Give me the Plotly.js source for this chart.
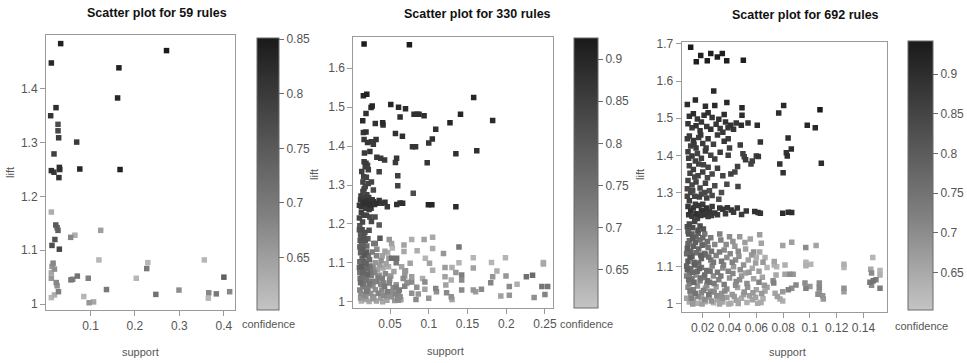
<!DOCTYPE html>
<html><head><meta charset="utf-8">
<script src="https://cdn.plot.ly/plotly-3.0.1.min.js"></script>
<style>html,body{margin:0;padding:0;background:#fff}#chart{width:967px;height:363px}</style>
</head><body><div id="chart"></div>
<script>
// [support, lift, confidence] for each rule
const titles = ["Scatter plot for 59 rules", "Scatter plot for 330 rules", "Scatter plot for 692 rules"];
const xTicks1 = [0.1, 0.2, 0.3, 0.4];
const yTicks1 = [1, 1.1, 1.2, 1.3, 1.4];
const cTicks1 = [0.65, 0.7, 0.75, 0.8, 0.85];
const xTicks2 = [0.05, 0.1, 0.15, 0.2, 0.25];
const yTicks2 = [1, 1.1, 1.2, 1.3, 1.4, 1.5, 1.6];
const cTicks2 = [0.65, 0.7, 0.75, 0.8, 0.85, 0.9];
const xTicks3 = [0.02, 0.04, 0.06, 0.08, 0.1, 0.12, 0.14];
const yTicks3 = [1, 1.1, 1.2, 1.3, 1.4, 1.5, 1.6, 1.7];
const cTicks3 = [0.65, 0.7, 0.75, 0.8, 0.85, 0.9];

const rules1 = [
[0.033,1.484,0.84],[0.012,1.448,0.83],[0.271,1.471,0.85],[0.164,1.439,0.84],[0.161,1.383,0.83],
[0.0225,1.365,0.82],[0.0105,1.350,0.81],[0.027,1.334,0.77],[0.027,1.322,0.78],[0.0285,1.309,0.80],
[0.069,1.301,0.80],[0.018,1.279,0.79],[0.012,1.248,0.82],[0.018,1.245,0.80],[0.030,1.254,0.82],
[0.029,1.235,0.81],[0.076,1.251,0.83],[0.1665,1.250,0.84],[0.031,1.250,0.81],
[0.012,1.171,0.63],[0.022,1.147,0.75],[0.025,1.142,0.73],[0.027,1.137,0.74],[0.020,1.120,0.76],
[0.0135,1.109,0.77],[0.030,1.102,0.78],[0.0555,1.124,0.68],[0.065,1.128,0.63],[0.123,1.137,0.65],
[0.016,1.076,0.68],[0.0135,1.070,0.66],[0.019,1.065,0.67],[0.012,1.058,0.64],[0.012,1.048,0.66],
[0.023,1.040,0.68],[0.025,1.034,0.67],[0.028,1.023,0.69],[0.019,1.017,0.63],[0.012,1.012,0.62],
[0.056,1.045,0.70],[0.060,1.046,0.69],[0.0705,1.052,0.71],[0.095,1.048,0.69],[0.085,1.014,0.62],
[0.097,1.0025,0.66],[0.107,1.004,0.64],[0.119,1.082,0.62],[0.136,1.027,0.70],[0.203,1.048,0.62],
[0.229,1.077,0.62],[0.2265,1.066,0.70],[0.247,1.018,0.71],[0.299,1.026,0.67],[0.356,1.082,0.62],
[0.366,1.021,0.68],[0.365,1.011,0.62],[0.383,1.019,0.70],[0.400,1.050,0.74],[0.413,1.023,0.68]
];

const rules2 = [
[0.0165,1.662,0.92],[0.075,1.660,0.92],[0.158,1.525,0.90],[0.0156,1.529,0.90],[0.020,1.533,0.91],
[0.0255,1.499,0.89],[0.027,1.503,0.90],[0.019,1.484,0.88],[0.0148,1.465,0.89],[0.051,1.507,0.90],
[0.061,1.500,0.89],[0.070,1.496,0.89],[0.063,1.475,0.88],[0.081,1.482,0.88],[0.085,1.482,0.88],
[0.0875,1.482,0.88],[0.094,1.478,0.88],[0.141,1.482,0.90],[0.1825,1.466,0.89],[0.031,1.458,0.88],
[0.0405,1.460,0.89],[0.041,1.454,0.88],[0.1274,1.460,0.90],[0.109,1.443,0.88],[0.0156,1.435,0.87],
[0.019,1.436,0.88],[0.057,1.432,0.88],[0.066,1.425,0.88],[0.1046,1.418,0.88],[0.100,1.408,0.87],
[0.0165,1.417,0.86],[0.021,1.409,0.87],[0.026,1.411,0.86],[0.032,1.417,0.87],[0.0285,1.405,0.86],
[0.079,1.398,0.87],[0.083,1.398,0.87],[0.135,1.380,0.88],[0.162,1.388,0.88],[0.017,1.382,0.86],
[0.024,1.386,0.87],[0.033,1.371,0.86],[0.038,1.369,0.86],[0.043,1.364,0.86],[0.0585,1.369,0.87],
[0.057,1.358,0.86],[0.098,1.357,0.87],[0.0165,1.360,0.85],[0.019,1.356,0.86],[0.021,1.351,0.84],
[0.018,1.347,0.85],[0.022,1.339,0.85],[0.036,1.334,0.85],[0.060,1.324,0.85],[0.060,1.298,0.84],
[0.080,1.279,0.82],[0.016,1.321,0.84],[0.015,1.308,0.84],[0.018,1.296,0.83],[0.015,1.283,0.83],
[0.022,1.304,0.84],[0.026,1.308,0.84],[0.0285,1.287,0.83],
[0.015,1.257,0.87],[0.0177,1.253,0.88],[0.0207,1.260,0.87],[0.024,1.249,0.88],[0.0285,1.257,0.87],
[0.033,1.253,0.88],[0.036,1.260,0.87],[0.0396,1.253,0.86],[0.0435,1.256,0.87],[0.0465,1.244,0.86],
[0.0587,1.250,0.88],[0.063,1.254,0.87],[0.0663,1.253,0.88],[0.0995,1.249,0.90],[0.104,1.249,0.90],
[0.135,1.244,0.89],[0.012,1.262,0.86],[0.013,1.245,0.87],[0.019,1.240,0.86],[0.023,1.237,0.85],
[0.027,1.262,0.86],[0.017,1.268,0.85],[0.020,1.275,0.84],[0.030,1.250,0.87],[0.013,1.230,0.85],
[0.016,1.222,0.84],[0.0306,1.218,0.82],[0.036,1.197,0.80],
[0.011,1.195,0.80],[0.014,1.185,0.82],[0.012,1.172,0.79],[0.016,1.165,0.81],[0.013,1.152,0.78],
[0.018,1.158,0.80],[0.011,1.141,0.77],[0.015,1.135,0.79],[0.020,1.143,0.76],[0.012,1.126,0.78],
[0.017,1.120,0.80],[0.014,1.112,0.77],[0.022,1.118,0.75],[0.011,1.103,0.76],[0.019,1.098,0.78],
[0.013,1.090,0.79],[0.024,1.092,0.74],[0.016,1.082,0.76],[0.011,1.075,0.74],[0.021,1.071,0.77],
[0.014,1.064,0.75],[0.026,1.067,0.72],[0.018,1.055,0.73],[0.012,1.049,0.76],[0.023,1.046,0.74],
[0.015,1.038,0.72],[0.028,1.041,0.70],[0.011,1.030,0.71],[0.020,1.027,0.73],[0.016,1.018,0.70],
[0.025,1.021,0.69],[0.012,1.010,0.68],[0.019,1.006,0.66],[0.023,1.001,0.65],[0.013,1.002,0.64],
[0.028,1.088,0.70],[0.031,1.100,0.68],[0.034,1.083,0.66],[0.037,1.094,0.67],[0.041,1.087,0.65],
[0.045,1.098,0.66],[0.048,1.090,0.64],[0.030,1.075,0.71],[0.036,1.068,0.69],[0.040,1.060,0.72],
[0.044,1.072,0.70],[0.051,1.066,0.68],[0.055,1.078,0.66],[0.033,1.052,0.72],[0.038,1.045,0.70],
[0.043,1.040,0.73],[0.049,1.048,0.71],[0.054,1.036,0.70],[0.058,1.044,0.68],[0.031,1.031,0.69],
[0.035,1.022,0.71],[0.042,1.017,0.70],[0.047,1.026,0.72],[0.052,1.013,0.69],[0.057,1.020,0.71],
[0.060,1.008,0.70],[0.038,1.009,0.67],[0.029,1.013,0.68],[0.062,1.030,0.72],[0.064,1.005,0.66],
[0.056,1.003,0.68],[0.046,1.004,0.66],[0.027,1.128,0.72],[0.033,1.135,0.70],[0.040,1.118,0.66],
[0.047,1.126,0.64],[0.053,1.138,0.63],[0.029,1.150,0.74],[0.052,1.112,0.75],[0.058,1.100,0.73],
[0.065,1.090,0.66],[0.070,1.080,0.68],[0.067,1.060,0.70],[0.073,1.050,0.69],[0.069,1.040,0.71],
[0.023,1.184,0.82],[0.026,1.206,0.83],[0.024,1.218,0.83],[0.037,1.163,0.80],[0.031,1.150,0.74],
[0.049,1.160,0.68],[0.052,1.150,0.66],[0.068,1.146,0.66],[0.078,1.160,0.64],[0.094,1.160,0.66],
[0.105,1.166,0.65],[0.105,1.137,0.64],[0.119,1.124,0.68],[0.139,1.141,0.74],[0.0586,1.112,0.75],
[0.068,1.129,0.65],[0.076,1.099,0.66],[0.085,1.131,0.64],[0.0956,1.112,0.63],[0.101,1.099,0.66],
[0.121,1.088,0.67],[0.130,1.088,0.64],[0.1575,1.113,0.63],[0.181,1.101,0.63],[0.199,1.113,0.63],
[0.248,1.101,0.64],[0.248,1.097,0.65],[0.105,1.081,0.64],[0.121,1.064,0.66],[0.139,1.100,0.63],
[0.1425,1.069,0.72],[0.1425,1.056,0.70],[0.1575,1.030,0.68],[0.1605,1.026,0.67],[0.168,1.032,0.70],
[0.180,1.049,0.71],[0.1825,1.064,0.68],[0.193,1.015,0.66],[0.188,1.079,0.64],[0.204,1.039,0.70],
[0.204,1.017,0.68],[0.214,1.045,0.64],[0.226,1.064,0.75],[0.234,1.068,0.76],[0.236,1.011,0.69],
[0.246,1.039,0.74],[0.2535,1.039,0.74],[0.250,1.019,0.71],[0.123,1.023,0.70],[0.129,1.013,0.69],
[0.130,1.006,0.66],[0.1425,1.030,0.70],[0.109,1.034,0.71],[0.110,1.026,0.69],[0.100,1.009,0.68],
[0.095,1.032,0.66],[0.095,1.051,0.70],[0.092,1.060,0.64],[0.0845,1.037,0.69],[0.0865,1.020,0.68],
[0.0835,1.006,0.70],[0.078,1.064,0.67],[0.078,1.051,0.70],[0.078,1.022,0.69],[0.0716,1.047,0.64],
[0.069,1.077,0.66],[0.069,1.066,0.68],[0.0608,1.026,0.71],[0.063,1.013,0.70],[0.0608,1.004,0.69],
[0.0577,1.037,0.72],[0.122,1.043,0.66],[0.129,1.056,0.64],[0.135,1.075,0.68],[0.1575,1.087,0.66],
[0.1997,1.066,0.68],
[0.0105,1.185,0.81],[0.0135,1.168,0.80],[0.0175,1.178,0.81],[0.0215,1.162,0.79],[0.0115,1.158,0.80],
[0.0155,1.148,0.78],[0.0195,1.128,0.79],[0.0125,1.138,0.78],[0.0235,1.108,0.76],[0.0165,1.104,0.78],
[0.0105,1.088,0.77],[0.0205,1.085,0.76],[0.0145,1.076,0.77],[0.0245,1.078,0.73],[0.0115,1.060,0.75],
[0.0195,1.060,0.74],[0.0155,1.045,0.74],[0.0265,1.052,0.72],[0.0215,1.035,0.72],[0.0125,1.022,0.70],
[0.0185,1.013,0.69],[0.0275,1.008,0.68],[0.0325,1.002,0.66],[0.0405,1.000,0.65],
[0.0105,1.215,0.84],[0.0145,1.205,0.83],[0.0195,1.222,0.84],[0.0125,1.272,0.85],[0.0165,1.290,0.84],
[0.0225,1.268,0.85],[0.0105,1.248,0.86],[0.0255,1.240,0.86],[0.0135,1.335,0.85],[0.0195,1.320,0.84],
[0.0325,1.118,0.71],[0.0385,1.106,0.69],[0.0435,1.130,0.66],[0.0485,1.112,0.67],[0.0345,1.062,0.72],
[0.0415,1.048,0.71],[0.0495,1.058,0.70],[0.0535,1.025,0.69],[0.0395,1.030,0.70],[0.0455,1.015,0.69]
];

const rules3 = [
[0.011,1.691,0.94],[0.0152,1.652,0.93],[0.0185,1.669,0.93],[0.0234,1.655,0.93],[0.026,1.674,0.93],
[0.0309,1.665,0.93],[0.0346,1.674,0.93],[0.0379,1.655,0.93],[0.0503,1.656,0.93],[0.0282,1.573,0.91],
[0.0085,1.537,0.90],[0.0145,1.549,0.91],[0.022,1.532,0.90],[0.029,1.534,0.91],[0.038,1.542,0.91],
[0.0493,1.528,0.91],[0.0493,1.508,0.90],[0.0804,1.534,0.91],[0.0767,1.514,0.90],[0.1075,1.523,0.94],
[0.098,1.481,0.91],[0.104,1.474,0.91],[0.0837,1.447,0.90],[0.0861,1.417,0.90],[0.0824,1.407,0.89],
[0.0831,1.398,0.90],[0.0775,1.377,0.89],[0.080,1.353,0.89],[0.1085,1.379,0.90],[0.063,1.436,0.89],
[0.0607,1.481,0.90],[0.0538,1.487,0.89],[0.0488,1.481,0.90],[0.045,1.487,0.88],[0.0409,1.481,0.89],
[0.0389,1.474,0.88],[0.0615,1.397,0.88],
[0.010,1.505,0.89],[0.013,1.512,0.90],[0.016,1.498,0.88],[0.021,1.508,0.89],[0.024,1.515,0.90],
[0.027,1.502,0.88],[0.032,1.497,0.89],[0.036,1.510,0.90],[0.019,1.490,0.88],
[0.009,1.485,0.88],[0.012,1.474,0.87],[0.015,1.480,0.89],[0.018,1.466,0.88],[0.023,1.478,0.87],
[0.026,1.470,0.89],[0.030,1.484,0.88],[0.033,1.472,0.87],[0.037,1.490,0.89],[0.035,1.462,0.88],
[0.043,1.470,0.88],
[0.010,1.452,0.87],[0.013,1.440,0.88],[0.017,1.448,0.86],[0.020,1.432,0.87],[0.024,1.445,0.88],
[0.028,1.430,0.86],[0.031,1.455,0.87],[0.036,1.438,0.88],[0.039,1.445,0.87],[0.040,1.420,0.86],
[0.048,1.428,0.87],[0.011,1.425,0.86],[0.015,1.420,0.87],
[0.009,1.410,0.86],[0.012,1.398,0.87],[0.016,1.405,0.85],[0.019,1.392,0.86],[0.022,1.412,0.87],
[0.026,1.400,0.85],[0.029,1.390,0.86],[0.033,1.408,0.87],[0.039,1.400,0.86],[0.050,1.404,0.86],
[0.052,1.388,0.87],[0.051,1.396,0.85],[0.060,1.398,0.87],[0.057,1.385,0.86],
[0.010,1.372,0.85],[0.013,1.362,0.86],[0.017,1.377,0.85],[0.020,1.355,0.86],[0.024,1.368,0.85],
[0.027,1.350,0.84],[0.031,1.365,0.86],[0.035,1.345,0.85],[0.041,1.350,0.86],[0.044,1.355,0.85],
[0.046,1.370,0.86],[0.056,1.377,0.86],[0.014,1.342,0.84],
[0.009,1.332,0.85],[0.012,1.320,0.84],[0.015,1.328,0.85],[0.018,1.312,0.84],[0.022,1.325,0.85],
[0.025,1.305,0.83],[0.029,1.318,0.84],[0.034,1.300,0.83],[0.038,1.322,0.84],[0.0463,1.316,0.85],
[0.011,1.300,0.84],[0.014,1.290,0.85],[0.019,1.296,0.84],[0.023,1.285,0.85],[0.027,1.292,0.84],
[0.032,1.282,0.83],[0.010,1.278,0.86],
[0.009,1.262,0.88],[0.011,1.250,0.89],[0.013,1.258,0.88],[0.015,1.243,0.89],[0.017,1.265,0.88],
[0.019,1.252,0.89],[0.021,1.240,0.88],[0.023,1.258,0.89],[0.025,1.248,0.88],[0.027,1.262,0.87],
[0.029,1.245,0.88],[0.012,1.236,0.87],[0.016,1.230,0.86],[0.020,1.268,0.87],[0.024,1.235,0.87],
[0.0327,1.258,0.88],[0.035,1.255,0.88],[0.0384,1.259,0.88],[0.0413,1.253,0.88],[0.0458,1.258,0.88],
[0.0525,1.250,0.88],[0.0588,1.249,0.89],[0.0613,1.246,0.89],[0.0797,1.244,0.90],[0.0839,1.247,0.90],
[0.0864,1.246,0.90],[0.031,1.240,0.87],[0.037,1.243,0.87],[0.043,1.247,0.87],[0.049,1.241,0.87],
[0.063,1.244,0.88],[0.014,1.222,0.85],[0.010,1.215,0.84],[0.018,1.210,0.83],
[0.009,1.195,0.80],[0.012,1.188,0.79],[0.015,1.180,0.78],[0.0215,1.188,0.74],[0.0327,1.188,0.72],
[0.040,1.181,0.70],[0.0476,1.181,0.68],[0.0625,1.186,0.67],[0.018,1.172,0.76],[0.026,1.178,0.73],
[0.010,1.170,0.77],
[0.0637,1.163,0.66],[0.0215,1.160,0.75],[0.009,1.162,0.78],[0.013,1.155,0.79],[0.017,1.148,0.77],
[0.024,1.152,0.74],[0.029,1.160,0.71],[0.036,1.145,0.70],[0.044,1.155,0.68],[0.052,1.148,0.66],
[0.058,1.140,0.69],[0.0797,1.157,0.66],[0.0864,1.166,0.67],[0.0969,1.152,0.70],[0.1046,1.157,0.66],
[0.011,1.142,0.78],
[0.008,1.135,0.77],[0.012,1.128,0.79],[0.015,1.138,0.76],[0.019,1.122,0.78],[0.022,1.132,0.75],
[0.026,1.118,0.73],[0.030,1.130,0.72],[0.034,1.115,0.74],[0.038,1.125,0.70],[0.042,1.112,0.72],
[0.047,1.128,0.69],[0.054,1.118,0.66],[0.060,1.125,0.64],[0.065,1.112,0.68],[0.0734,1.114,0.66],
[0.009,1.115,0.80],[0.017,1.110,0.77],
[0.0734,1.105,0.64],[0.0752,1.100,0.63],[0.0814,1.105,0.64],[0.097,1.112,0.63],[0.097,1.103,0.64],
[0.1006,1.107,0.63],[0.1254,1.107,0.64],[0.1254,1.098,0.63],[0.1469,1.125,0.63],[0.1454,1.093,0.65],
[0.146,1.083,0.70],[0.1523,1.090,0.63],[0.1523,1.078,0.64],
[0.008,1.102,0.78],[0.011,1.095,0.76],[0.014,1.105,0.79],[0.016,1.088,0.77],[0.019,1.098,0.75],
[0.023,1.090,0.76],[0.027,1.102,0.72],[0.031,1.085,0.74],[0.035,1.097,0.70],[0.039,1.088,0.72],
[0.043,1.100,0.68],[0.048,1.092,0.70],[0.052,1.083,0.66],[0.057,1.096,0.65],[0.062,1.088,0.67],
[0.068,1.098,0.63],[0.010,1.082,0.74],
[0.0747,1.078,0.65],[0.0814,1.080,0.66],[0.085,1.080,0.70],[0.0875,1.080,0.68],[0.0725,1.062,0.70],
[0.073,1.056,0.72],
[0.008,1.075,0.72],[0.012,1.068,0.74],[0.015,1.078,0.70],[0.018,1.062,0.73],[0.021,1.072,0.71],
[0.025,1.058,0.74],[0.028,1.075,0.70],[0.032,1.065,0.72],[0.036,1.052,0.73],[0.040,1.070,0.69],
[0.045,1.060,0.71],[0.049,1.075,0.68],[0.053,1.055,0.70],[0.058,1.068,0.66],[0.062,1.058,0.72],
[0.066,1.050,0.68],[0.010,1.055,0.72],[0.023,1.050,0.70],
[0.0839,1.038,0.72],[0.0864,1.042,0.70],[0.0896,1.051,0.71],[0.0797,1.033,0.68],[0.0963,1.056,0.70],
[0.097,1.042,0.72],[0.100,1.047,0.68],[0.107,1.056,0.70],[0.107,1.044,0.71],[0.107,1.033,0.68],
[0.1254,1.042,0.69],[0.1254,1.033,0.67],[0.1448,1.058,0.74],[0.1473,1.062,0.75],[0.1493,1.065,0.72],
[0.1523,1.042,0.73],[0.146,1.050,0.70],
[0.009,1.045,0.70],[0.013,1.038,0.72],[0.016,1.048,0.69],[0.019,1.030,0.71],[0.022,1.042,0.68],
[0.026,1.034,0.70],[0.030,1.046,0.67],[0.034,1.028,0.69],[0.038,1.040,0.70],[0.042,1.025,0.68],
[0.046,1.044,0.66],[0.051,1.032,0.69],[0.055,1.022,0.67],[0.060,1.038,0.66],[0.064,1.028,0.68],
[0.068,1.045,0.66],[0.011,1.025,0.68],
[0.074,1.029,0.66],[0.0757,1.020,0.67],[0.0777,1.013,0.65],[0.0797,1.008,0.64],[0.106,1.026,0.70],
[0.1095,1.022,0.69],[0.110,1.013,0.68],
[0.008,1.015,0.66],[0.010,1.005,0.65],[0.013,1.012,0.67],[0.016,1.002,0.64],[0.019,1.016,0.66],
[0.022,1.006,0.65],[0.025,1.018,0.67],[0.028,1.003,0.64],[0.031,1.012,0.66],[0.035,1.005,0.65],
[0.038,1.017,0.67],[0.041,1.002,0.64],[0.045,1.010,0.66],[0.049,1.015,0.65],[0.053,1.004,0.64],
[0.057,1.011,0.66],[0.061,1.002,0.65],[0.065,1.014,0.64],
[0.0095,1.188,0.81],[0.0125,1.176,0.80],[0.0165,1.190,0.79],[0.020,1.178,0.77],[0.0235,1.168,0.76],
[0.0085,1.150,0.80],[0.0145,1.165,0.79],[0.0195,1.158,0.78],[0.0265,1.142,0.75],[0.0215,1.136,0.77],
[0.0105,1.125,0.81],[0.0135,1.112,0.78],[0.0185,1.132,0.79],[0.0245,1.126,0.76],[0.028,1.112,0.74],
[0.0085,1.092,0.79],[0.0125,1.085,0.77],[0.0175,1.095,0.78],[0.0215,1.078,0.76],[0.0255,1.088,0.75],
[0.0095,1.065,0.76],[0.0135,1.058,0.77],[0.0185,1.070,0.75],[0.0235,1.062,0.76],[0.0285,1.055,0.73],
[0.0105,1.035,0.74],[0.0145,1.028,0.75],[0.0205,1.036,0.72],[0.0245,1.025,0.74],[0.0285,1.032,0.71],
[0.0115,1.015,0.72],[0.0165,1.020,0.71],[0.0215,1.012,0.70],[0.0265,1.008,0.69],[0.0305,1.022,0.70],
[0.0125,1.000,0.68],[0.0195,1.000,0.67],[0.0325,1.000,0.66],[0.0395,1.000,0.65],[0.0465,1.001,0.66],
[0.0335,1.172,0.72],[0.0375,1.160,0.70],[0.0425,1.168,0.69],[0.0515,1.165,0.67],[0.0555,1.175,0.66],
[0.0325,1.140,0.73],[0.0405,1.135,0.71],[0.0465,1.142,0.70],[0.0565,1.132,0.68],[0.0625,1.140,0.65],
[0.0355,1.105,0.72],[0.0445,1.118,0.70],[0.0505,1.105,0.69],[0.0595,1.110,0.67],[0.0665,1.125,0.64],
[0.0335,1.075,0.73],[0.0425,1.082,0.71],[0.0475,1.065,0.70],[0.0545,1.085,0.68],[0.0645,1.072,0.66],
[0.0365,1.035,0.71],[0.0445,1.050,0.70],[0.0535,1.045,0.69],[0.0575,1.030,0.68],[0.0665,1.035,0.66],
[0.0345,1.016,0.69],[0.0435,1.020,0.68],[0.0505,1.025,0.67],[0.0595,1.018,0.66],[0.0635,1.004,0.65],
[0.0085,1.445,0.87],[0.0135,1.430,0.87],[0.0185,1.455,0.88],[0.0225,1.420,0.86],[0.0095,1.392,0.86],
[0.0145,1.385,0.86],[0.0205,1.375,0.85],[0.0105,1.352,0.85],[0.0165,1.345,0.85],[0.0235,1.340,0.84],
[0.0085,1.310,0.84],[0.0125,1.305,0.84],[0.0175,1.288,0.85],[0.0215,1.300,0.84],[0.0085,1.290,0.85],
[0.0095,1.240,0.88],[0.0145,1.268,0.87],[0.0185,1.238,0.88],[0.0225,1.248,0.88],[0.0265,1.238,0.87],
[0.0125,1.205,0.83],[0.0165,1.198,0.82],[0.0085,1.208,0.83],[0.0205,1.202,0.81]
];

const W = 967, H = 363;
const fx = px => px / W;
const fy = px => 1 - px / H;
const FONT = '"Liberation Sans", Arial, sans-serif';
const grays = [[0, '#c4c4c4'], [0.35, '#808080'], [1, '#1a1a1a']];

// pixel geometry of each panel
const panels = [
  {rules: rules1, box: [46, 235, 35, 310], xr: [0, 0.425], yr: [0.989, 1.50], cr: [0.602, 0.851],
   xt: xTicks1, yt: yTicks1, ct: cTicks1, cb: [257, 22, 38, 310],
   title: [157, 13], lift: [10, 173], sup: [140, 352], conf: [268, 324]},
  {rules: rules2, box: [353.3, 552.7, 36.7, 308], xr: [0.0026, 0.26], yr: [0.984, 1.681], cr: [0.6045, 0.925],
   xt: xTicks2, yt: yTicks2, ct: cTicks2, cb: [574, 24, 38, 308],
   title: [477, 14], lift: [314, 175], sup: [445, 351], conf: [586, 324]},
  {rules: rules3, box: [681.7, 886.7, 41.7, 311.7], xr: [0.0043, 0.1573], yr: [0.979, 1.706], cr: [0.603, 0.9416],
   xt: xTicks3, yt: yTicks3, ct: cTicks3, cb: [908, 24.5, 41, 310],
   title: [805, 15], lift: [640, 175], sup: [787, 352], conf: [921, 326]}
];

const traces = [];
const layout = {
  width: W, height: H, margin: {l: 0, r: 0, t: 0, b: 0},
  paper_bgcolor: '#fff', plot_bgcolor: '#fff', showlegend: false,
  font: {family: FONT, color: '#555'},
  annotations: []
};

panels.forEach((p, i) => {
  const n = i === 0 ? '' : String(i + 1);
  const sorted = p.rules.slice().sort((a, b) => a[2] - b[2]);
  traces.push({
    type: 'scatter', mode: 'markers',
    x: sorted.map(r => r[0]), y: sorted.map(r => r[1]),
    xaxis: 'x' + n, yaxis: 'y' + n, hoverinfo: 'skip',
    marker: {
      symbol: 'square', size: 5.5, line: {width: 0},
      color: sorted.map(r => r[2]), cmin: p.cr[0], cmax: p.cr[1], colorscale: grays,
      showscale: true,
      colorbar: {
        x: fx(p.cb[0]), xanchor: 'left', xpad: 0,
        y: fy(p.cb[2]), yanchor: 'top', ypad: 0,
        len: p.cb[3] - p.cb[2], lenmode: 'pixels',
        thickness: p.cb[1], thicknessmode: 'pixels',
        outlinewidth: 1, outlinecolor: '#6a6a6a', borderwidth: 0,
        ticks: 'outside', ticklen: 5, tickwidth: 1, tickcolor: '#6a6a6a',
        tickvals: p.ct, ticktext: p.ct.map(String),
        tickfont: {family: FONT, size: 12, color: '#555'}
      }
    }
  });
  const common = {
    showline: true, mirror: true, linecolor: '#9a9a9a', linewidth: 1,
    ticks: 'outside', ticklen: 5, tickwidth: 1, tickcolor: '#9a9a9a',
    showgrid: false, zeroline: false, fixedrange: true,
    tickfont: {family: FONT, size: 12, color: '#555'}
  };
  layout['xaxis' + n] = Object.assign({}, common, {
    domain: [fx(p.box[0]), fx(p.box[1])], range: p.xr, anchor: 'y' + n,
    tickvals: p.xt, ticktext: p.xt.map(String)
  });
  layout['yaxis' + n] = Object.assign({}, common, {
    domain: [fy(p.box[3]), fy(p.box[2])], range: p.yr, anchor: 'x' + n,
    tickvals: p.yt, ticktext: p.yt.map(String)
  });
  const ann = (txt, xy, extra) => Object.assign({
    text: txt, xref: 'paper', yref: 'paper', x: fx(xy[0]), y: fy(xy[1]),
    xanchor: 'center', yanchor: 'middle', showarrow: false,
    font: {family: FONT, size: 11, color: '#555'}
  }, extra || {});
  layout.annotations.push(ann('<b>' + titles[i] + '</b>', p.title, {font: {family: FONT, size: 12.5, color: '#111'}}));
  layout.annotations.push(ann('lift', p.lift, {textangle: -90}));
  layout.annotations.push(ann('support', p.sup));
  layout.annotations.push(ann('confidence', p.conf));
});

Plotly.newPlot('chart', traces, layout, {staticPlot: true, displayModeBar: false});
</script></body></html>
